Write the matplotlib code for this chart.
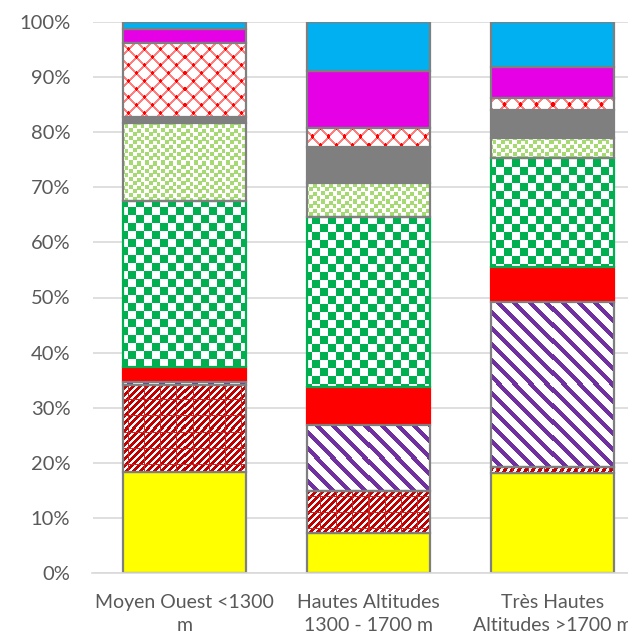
import numpy as np
import matplotlib
matplotlib.use("Agg")
import matplotlib.pyplot as plt
from matplotlib.colors import to_rgb

categories = ["Moyen Ouest <1300\nm", "Hautes Altitudes\n1300 - 1700 m", "Très Hautes\nAltitudes >1700 m"]
# stacked shares (%) bottom -> top
s_yellow     = [18.3, 7.3, 18.1]
s_darkred    = [15.8, 7.6, 1.1]
s_purple     = [0.5, 12.0, 30.0]
s_red        = [2.7, 6.9, 6.3]
s_green      = [30.3, 30.8, 19.8]
s_lightgreen = [14.0, 6.2, 3.6]
s_gray       = [1.1, 6.5, 5.1]
s_redlattice = [13.4, 3.5, 2.2]
s_magenta    = [2.7, 10.3, 5.6]
s_blue       = [1.2, 8.9, 8.2]
yticks = [0, 10, 20, 30, 40, 50, 60, 70, 80, 90, 100]

EDGE = "#7f7f7f"

def pat_checker(I, J):
    return np.where(((I // 8 + J // 8) % 2) == 0, 1.0, 0.0)

def pat_confetti(I, J):
    tile = np.zeros((16, 16))
    for (r, c) in [(0, 1), (1, 9), (4, 5), (5, 13), (8, 1), (9, 9), (12, 5), (12, 13)]:
        tile[r:r + 4, c:c + 4] = 0.8
    return tile[I % 16, J % 16]

def pat_lattice(I, J):
    a = (I + J) % 16
    b = (I - J) % 16
    m = np.where((a < 3) | (b < 3), 0.5, 0.0)
    dots = ((a <= 2) | (a >= 15)) & ((b <= 2) | (b >= 15))
    m = np.where(dots, 1.0, m)
    return m

def pat_diag_fwd(I, J):
    m = np.where(((I + J) % 7) < 4, 1.0, 0.0)
    m = np.where((J % 16 == 0) | (I % 16 == 0), 0.85, m)
    return m

def pat_diag_back(I, J):
    return np.where(((J - I) % 16) < 6, 1.0, 0.0)

styles = [
    (s_yellow,     "#ffff00", EDGE, None),
    (s_darkred,    "#c00000", EDGE, pat_diag_fwd),
    (s_purple,     "#7030a0", EDGE, pat_diag_back),
    (s_red,        "#ff0000", "#ff0000", None),
    (s_green,      "#00b050", "#00b050", pat_checker),
    (s_lightgreen, "#92d050", EDGE, pat_confetti),
    (s_gray,       "#7f7f7f", EDGE, None),
    (s_redlattice, "#ff0000", EDGE, pat_lattice),
    (s_magenta,    "#e600e6", EDGE, None),
    (s_blue,       "#00b0f0", EDGE, None),
]

W, H = 628, 633
fig = plt.figure(figsize=(W / 100, H / 100), dpi=100)
ax = fig.add_axes([92.5 / W, 60 / H, 552 / W, 551 / H])
ax.set_xlim(-0.5, 2.5)
ax.set_ylim(0, 100)

x = np.arange(len(categories))
bw = 0.67
bottom = np.zeros(len(categories))
textured = []
for vals, col, edge, pat in styles:
    vals = np.asarray(vals, dtype=float)
    if pat is None:
        ax.bar(x, vals, bw, bottom=bottom, color=col, edgecolor=edge, linewidth=1.6, zorder=2)
    else:
        ax.bar(x, vals, bw, bottom=bottom, color="white", edgecolor="none", zorder=2)
        ax.bar(x, vals, bw, bottom=bottom, fill=False, edgecolor=edge, linewidth=1.6, zorder=4)
        for xi, v, b in zip(x, vals, bottom):
            textured.append((xi, v, b, col, pat))
    bottom = bottom + vals

fig.canvas.draw()
for xi, v, b, col, pat in textured:
    x0, x1 = xi - bw / 2, xi + bw / 2
    y0, y1 = b, b + v
    p0 = ax.transData.transform((x0, y1))
    p1 = ax.transData.transform((x1, y0))
    cols = max(1, int(round(p1[0] - p0[0])))
    rows = max(1, int(round(p0[1] - p1[1])))
    top_row = int(round(H - p0[1]))
    left_col = int(round(p0[0]))
    J, I = np.meshgrid(np.arange(cols) + left_col, np.arange(rows) + top_row)
    m = pat(I, J)[..., None]
    c = np.array(to_rgb(col))
    img = m * c + (1 - m) * np.ones(3)
    ax.imshow(img, extent=[x0, x1, y0, y1], aspect="auto", interpolation="nearest",
              zorder=3, origin="upper")

ax.set_xlim(-0.5, 2.5)
ax.set_ylim(0, 100)
ax.set_yticks(yticks)
ax.set_yticklabels([f"{t}%" for t in yticks])
ax.set_xticks(x)
ax.set_xticklabels(categories, linespacing=1.45)
ax.grid(axis="y", color="#d9d9d9", linewidth=1.2, zorder=0)
ax.set_axisbelow(True)
for s in ["top", "right", "left"]:
    ax.spines[s].set_visible(False)
ax.spines["bottom"].set_color("#d9d9d9")
ax.spines["bottom"].set_linewidth(1.2)
ax.tick_params(axis="y", length=0, pad=16, labelsize=14.5, labelcolor="#595959")
ax.tick_params(axis="x", length=0, pad=15, labelsize=14, labelcolor="#595959")
for lab in ax.get_xticklabels() + ax.get_yticklabels():
    lab.set_fontfamily("Lato")

fig.savefig("out.png", dpi=100)
